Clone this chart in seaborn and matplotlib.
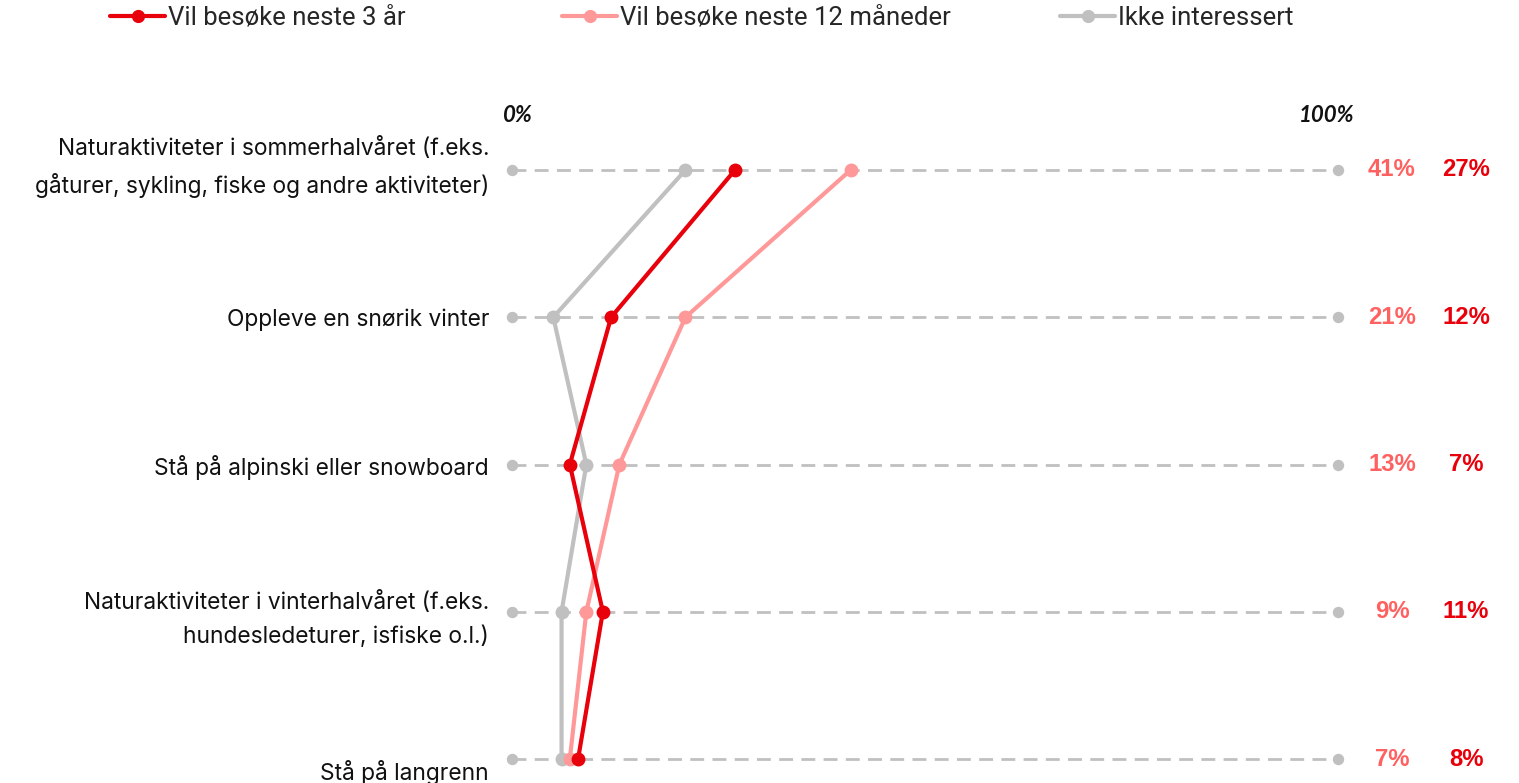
import numpy as np
import pandas as pd
import matplotlib.pyplot as plt
import seaborn as sns
from matplotlib.lines import Line2D
from matplotlib import font_manager
import matplotlib.transforms as mtransforms

# data (percent)
categories = [
    "Naturaktiviteter i sommerhalvåret (f.eks.\ngåturer, sykling, fiske og andre aktiviteter)",
    "Oppleve en snørik vinter",
    "Stå på alpinski eller snowboard",
    "Naturaktiviteter i vinterhalvåret (f.eks.\nhundesledeturer, isfiske o.l.)",
    "Stå på langrenn",
]
series = ["Vil besøke neste 3 år", "Vil besøke neste 12 måneder", "Ikke interessert"]
tre_aar = [27, 12, 7, 11, 8]
tolv_mnd = [41, 21, 13, 9, 7]
ikke_interessert = [21, 5, 9, 6, 6]

colors = {series[0]: "#e8000b", series[1]: "#ff9999", series[2]: "#c0c0c0"}
label_colors = {series[0]: "#e8000b", series[1]: "#ff6161"}

rows = list(range(len(categories)))
df = pd.DataFrame({
    "row": rows * 3,
    "value": tre_aar + tolv_mnd + ikke_interessert,
    "serie": [s for s in series for _ in rows],
})

sns.set_theme(style="white")
plt.rcParams["font.family"] = ["Inter", "DejaVu Sans"]

# arial-like bold for the value labels (avoid the narrow variant)
bold_file = None
for f in font_manager.fontManager.ttflist:
    if f.name == "Liberation Sans" and f.weight in (700, "bold") and f.style == "normal":
        bold_file = f.fname
        break
val_font = font_manager.FontProperties(fname=bold_file, size=17.2) if bold_file else \
    font_manager.FontProperties(family="DejaVu Sans", weight="bold", size=15.5)

fig = plt.figure(figsize=(15.19, 7.83), dpi=100)
W, H = 1519, 783
ax = fig.add_axes([512 / W, (H - 759) / H, 826 / W, (759 - 170) / H])
ax.set_xlim(0, 100)
ax.set_ylim(len(categories) - 1, 0)

# dashed guide per row with end dots
for r in rows:
    ax.plot([0, 100], [r, r], color="#c0c0c0", lw=2, ls=(0, (5, 3)), zorder=1, clip_on=False)
    ax.plot([0, 100], [r, r], "o", color="#c0c0c0", ms=7.2, zorder=1, clip_on=False)

# draw grey first, red on top
for s in [series[2], series[1], series[0]]:
    sub = df[df["serie"] == s]
    sns.lineplot(data=sub, x="value", y="row", sort=False, estimator=None, orient="y",
                 color=colors[s], lw=3, marker="o", markersize=10, markeredgewidth=0,
                 ax=ax, zorder=3, clip_on=False)

ax.set_yticks(rows)
ax.set_yticklabels(categories, fontsize=16.4, color="#111111", ha="right", linespacing=1.62)
ax.tick_params(axis="y", length=0, pad=16.5)
ax.set_xticks([])
ax.set_xlabel("")
ax.set_ylabel("")
sns.despine(ax=ax, left=True, bottom=True)

# small vertical nudges so the labels sit as in the reference
ticklabels = ax.get_yticklabels()
for lbl, dy in [(ticklabels[0], 0.11), (ticklabels[-1], -0.11)]:
    lbl.set_transform(lbl.get_transform() + mtransforms.ScaledTranslation(0, dy, fig.dpi_scale_trans))

# header labels
hdr = dict(fontsize=16, fontweight="bold", style="italic", color="#111111",
           family=["Lato", "DejaVu Sans"], va="center", annotation_clip=False)
ax.annotate("0%", xy=(0, 0), xytext=(-9, 55), textcoords="offset pixels", ha="left", **hdr)
ax.annotate("100%", xy=(100, 0), xytext=(17, 55), textcoords="offset pixels", ha="right", **hdr)

# value labels at the right
for r in rows:
    ax.annotate(f"{tolv_mnd[r]}%", xy=(100, r), xytext=(54, 0), textcoords="offset pixels",
                color=label_colors[series[1]], fontproperties=val_font,
                ha="center", va="center", annotation_clip=False)
    ax.annotate(f"{tre_aar[r]}%", xy=(100, r), xytext=(128, 0), textcoords="offset pixels",
                color=label_colors[series[0]], fontproperties=val_font,
                ha="center", va="center", annotation_clip=False)

# legend entries spaced like the reference
leg_x = [110, 562, 1060]
for s, lx in zip(series, leg_x):
    h = Line2D([], [], color=colors[s], lw=3, marker="o", markersize=9.5, markeredgewidth=0)
    fig.legend([h], [s], loc="center left", bbox_to_anchor=(lx / W, 1 - 18 / H), frameon=False,
               prop={"family": ["Roboto", "DejaVu Sans"], "size": 18.5},
               handlelength=2.15, handletextpad=0.1, borderaxespad=0, borderpad=0)

fig.savefig("out.png", dpi=100, facecolor="white")
